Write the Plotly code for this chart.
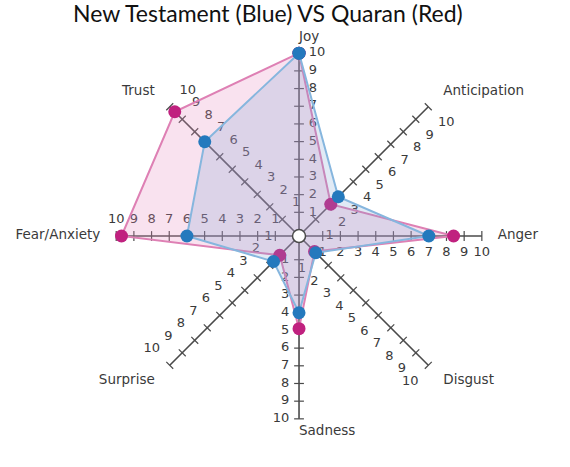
import plotly.graph_objects as go

# emotion spokes, clockwise from the top
emotions = ["Joy", "Anticipation", "Anger", "Disgust", "Sadness", "Surprise", "Fear/Anxiety", "Trust"]
new_testament = [10, 2.8, 7.0, 1.0, 4.0, 1.7, 6.0, 7.2]   # blue
quran = [10, 2.2, 8.4, 0.9, 4.9, 1.2, 9.7, 9.6]           # red
scale_ticks = [1, 2, 3, 4, 5, 6, 7, 8, 9, 10]
tick_labels = [str(t) for t in scale_ticks]

# side of each spoke the numbers sit on
label_side = ["middle right", "bottom right", "bottom center", "bottom left",
              "middle left", "top left", "top center", "top right"]
# where the emotion names sit around the outer end of the spokes
name_side = ["top right", "middle right", "middle right", "middle right",
             "bottom right", "middle left", "middle left", "middle left"]
name_r = [10.48, 11.2, 10.9, 11.2, 10.35, 11.2, 10.9, 11.2]

AXIS_COL = "#4a4a4a"
TXT_COL = "#3a3a3a"

fig = go.Figure()

# spokes with tick marks and numbers
for i, emo in enumerate(emotions):
    rot = i * 360 / len(emotions)
    fig.add_trace(go.Scatterpolar(
        r=[0, scale_ticks[-1]], theta=[emo, emo], mode="lines",
        line=dict(color=AXIS_COL, width=1.6), hoverinfo="skip", showlegend=False))
    fig.add_trace(go.Scatterpolar(
        r=scale_ticks, theta=[emo] * len(scale_ticks), mode="markers",
        marker=dict(symbol="line-ew", size=7, angle=rot,
                    line=dict(color=AXIS_COL, width=1.2)),
        hoverinfo="skip", showlegend=False))
    fig.add_trace(go.Scatterpolar(
        r=scale_ticks, theta=[emo] * len(scale_ticks), mode="markers+text",
        text=tick_labels, textposition=label_side[i],
        textfont=dict(family="DejaVu Sans", size=13, color=TXT_COL),
        marker=dict(size=14, color="rgba(0,0,0,0)"),
        hoverinfo="skip", showlegend=False))

# emotion names
fig.add_trace(go.Scatterpolar(
    r=name_r, theta=emotions, mode="text", text=emotions,
    textposition=name_side, cliponaxis=False,
    textfont=dict(family="DejaVu Sans", size=13.5, color=TXT_COL),
    hoverinfo="skip", showlegend=False))

# Quaran (red)
fig.add_trace(go.Scatterpolar(
    r=quran + quran[:1], theta=emotions + emotions[:1],
    mode="lines+markers", fill="toself",
    fillcolor="rgba(232,140,190,0.25)",
    line=dict(color="#de80b4", width=2),
    marker=dict(size=13, color="#c0217f"),
    name="Quaran", showlegend=False))

# New Testament (blue)
fig.add_trace(go.Scatterpolar(
    r=new_testament + new_testament[:1], theta=emotions + emotions[:1],
    mode="lines+markers", fill="toself",
    fillcolor="rgba(120,160,210,0.22)",
    line=dict(color="#86b6de", width=2),
    marker=dict(size=13, color="#2479bd"),
    name="New Testament", showlegend=False))

# little ring at the centre
fig.add_trace(go.Scatterpolar(
    r=[-0.34], theta=[emotions[0]], mode="markers",
    marker=dict(size=13, color="white", line=dict(color=AXIS_COL, width=1.5)),
    hoverinfo="skip", showlegend=False))

fig.update_layout(
    width=570, height=467,
    margin=dict(l=0, r=0, t=0, b=0),
    paper_bgcolor="white",
    title=dict(text="New Testament (Blue) VS Quaran (Red)",
               x=0.470, xanchor="center", y=0.970, yanchor="middle",
               font=dict(family="Lato", size=23, color="#111111")),
    polar=dict(
        domain=dict(x=[0.1635, 0.8857], y=[0.0539, 0.9353]),
        bgcolor="rgba(0,0,0,0)",
        radialaxis=dict(range=[-0.34, 11.3], visible=False),
        angularaxis=dict(rotation=90, direction="clockwise",
                         categoryorder="array", categoryarray=emotions,
                         showgrid=False, showline=False, ticks="",
                         showticklabels=False),
    ),
)

# drop the browser's default 8px page margin so the figure fills the window
fig.write_html("out.html", config={"displayModeBar": False},
               post_script="document.body.style.margin='0';")
